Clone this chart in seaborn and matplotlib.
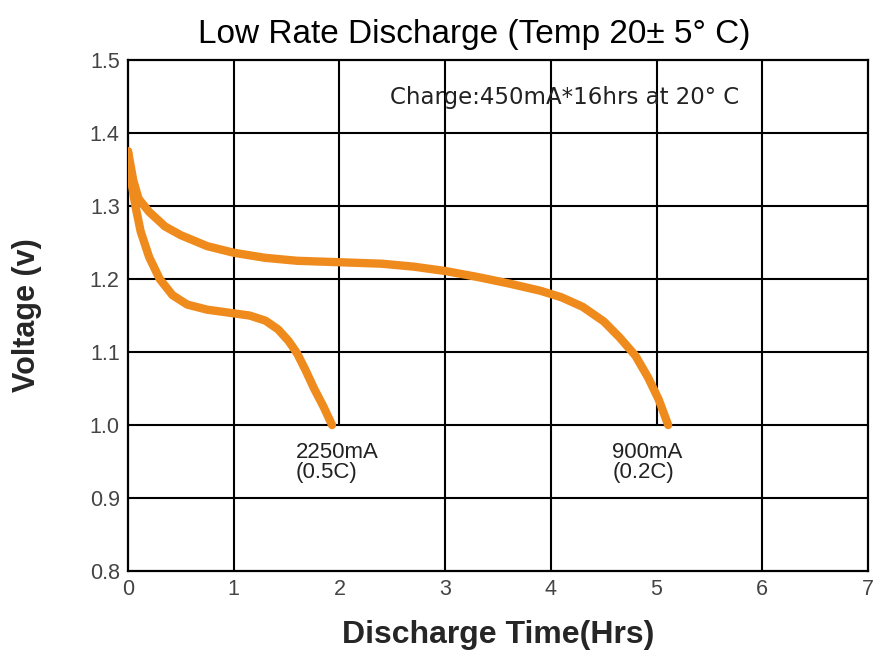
import pandas as pd
import matplotlib
matplotlib.use("Agg")
import matplotlib.pyplot as plt
import seaborn as sns

# ── DATA ──────────────────────────────────────────────────
t_900 = [0.0, 0.05, 0.1, 0.2, 0.35, 0.5, 0.75, 1.0, 1.3, 1.6, 2.0, 2.4, 2.7,
         3.0, 3.3, 3.6, 3.9, 4.1, 4.3, 4.5, 4.65, 4.8, 4.92, 5.02, 5.11]
v_900 = [1.375, 1.335, 1.31, 1.292, 1.272, 1.26, 1.245, 1.236, 1.229, 1.225,
         1.223, 1.221, 1.217, 1.211, 1.203, 1.194, 1.184, 1.175, 1.162, 1.142,
         1.12, 1.095, 1.065, 1.035, 1.0]

t_2250 = [0.0, 0.03, 0.07, 0.12, 0.2, 0.3, 0.42, 0.56, 0.75, 1.0, 1.15, 1.3,
          1.42, 1.52, 1.6, 1.68, 1.76, 1.85, 1.93]
v_2250 = [1.375, 1.335, 1.3, 1.265, 1.23, 1.2, 1.178, 1.165, 1.158, 1.153,
          1.15, 1.143, 1.131, 1.115, 1.098, 1.075, 1.05, 1.025, 1.0]

series_names = ["900mA", "2250mA"]
series_labels = ["900mA\n(0.2C)", "2250mA\n(0.5C)"]
label_pos = [(4.58, 0.977), (1.59, 0.977)]

x_ticks = [0, 1, 2, 3, 4, 5, 6, 7]
y_ticks = [0.8, 0.9, 1.0, 1.1, 1.2, 1.3, 1.4, 1.5]
y_tick_labels = ["0.8", "0.9", "1.0", "1.1", "1.2", "1.3", "1.4", "1.5"]

df = pd.concat([
    pd.DataFrame({"time": t_900, "volt": v_900, "rate": "900mA"}),
    pd.DataFrame({"time": t_2250, "volt": v_2250, "rate": "2250mA"}),
])

ORANGE = "#ef8a1d"
TICK_GRAY = "#444444"

# ── STYLE ─────────────────────────────────────────────────
sns.set_style("white")
plt.rcParams["font.family"] = ["Liberation Sans", "DejaVu Sans"]

fig = plt.figure(figsize=(8.78, 6.64), dpi=100)
ax = fig.add_axes([0.1458, 0.14, 0.8428, 0.7696])

# grid drawn by hand: verticals at 2 and 5 stop at 1.0 in the original
for yv in y_ticks[1:-1]:
    ax.axhline(yv, color="black", lw=1.5, zorder=1)
for xv in x_ticks[1:-1]:
    y0 = 0.2 / 0.7 if xv in (2, 5) else 0
    ax.axvline(xv, ymin=y0, ymax=1, color="black", lw=1.5, zorder=1)

sns.lineplot(data=df, x="time", y="volt", hue="rate", hue_order=series_names,
             palette=[ORANGE, ORANGE], estimator=None, sort=False,
             lw=6, legend=False, ax=ax, zorder=3)

ax.set_xlim(0, 7)
ax.set_ylim(0.8, 1.5)
ax.set_xticks(x_ticks)
ax.set_yticks(y_ticks)
ax.set_yticklabels(y_tick_labels)
ax.tick_params(length=0, labelsize=15.5, labelcolor=TICK_GRAY, pad=6)

for spine in ax.spines.values():
    spine.set_edgecolor("black")
    spine.set_linewidth(1.6)

ax.set_title("Low Rate Discharge (Temp 20\u00b1 5\u00b0 C)", fontsize=24,
             color="black", x=0.4676, pad=12)
ax.set_xlabel("Discharge Time(Hrs)", fontsize=23, fontweight="bold",
              labelpad=14)
ax.set_ylabel("Voltage (v)", fontsize=22, fontweight="bold", labelpad=34)

ax.text(2.48, 1.448, "Charge:450mA*16hrs at 20\u00b0 C", fontsize=16.5,
        family="DejaVu Sans", color="#222222", va="center", ha="left")

for lab, (lx, ly) in zip(series_labels, label_pos):
    ax.text(lx, ly, lab, fontsize=16, color="#222222", va="top", ha="left",
            linespacing=0.95)

fig.savefig("out.png", dpi=100, facecolor="white")
